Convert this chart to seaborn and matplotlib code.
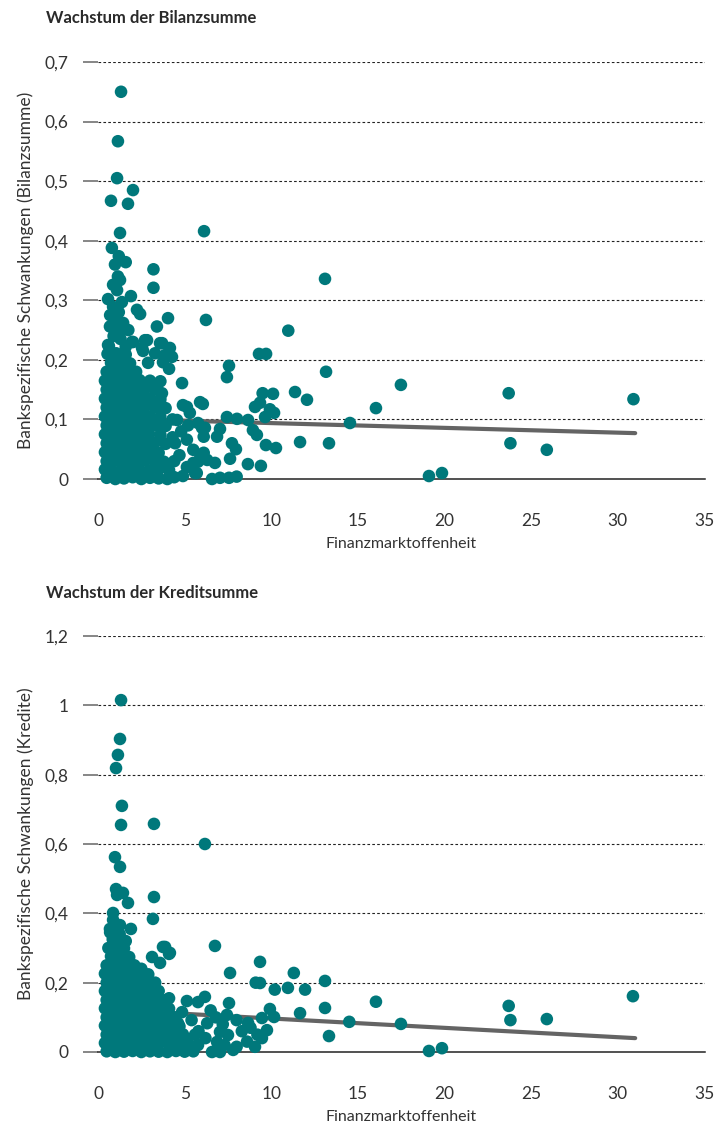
import matplotlib
matplotlib.use("Agg")
import matplotlib.pyplot as plt
import seaborn as sns
import pandas as pd

# ---------------- data: Wachstum der Bilanzsumme ----------------
bil_outlier_x = [1.33, 1.15, 1.10, 2.02, 0.75, 1.73, 1.27, 6.12, 0.80, 1.20, 1.60, 0.98, 3.20, 1.15, 1.27,
                 0.87, 1.10, 3.20, 1.90, 0.58, 1.38, 0.87, 2.25, 2.43, 4.04, 3.40, 0.69, 1.38, 0.63, 1.96,
                 2.83, 3.70, 4.15, 2.54, 3.29, 3.87, 6.23, 10.98, 13.10, 9.29, 9.70, 7.56, 7.44, 4.85, 13.16,
                 5.89, 6.05, 5.13, 5.30, 9.50, 10.10, 11.37, 12.06, 9.06, 9.35, 9.92, 10.16, 9.64, 7.44, 8.02,
                 8.66, 8.94, 9.17, 9.69, 10.27, 11.66, 7.73, 7.96, 7.62, 8.65, 9.40, 6.58, 7.04, 7.56, 8.00,
                 6.00, 6.10, 5.50, 5.90, 6.75, 7.04, 6.87, 5.70, 5.13, 17.48, 16.04, 14.54, 13.33, 19.10, 19.85,
                 23.70, 30.90, 23.80, 25.90, 2.71, 3.58, 4.27, 3.75, 4.10, 2.89, 2.02, 0.58, 3.40, 3.69, 3.58,
                 4.56, 5.77, 6.17, 4.90, 4.30, 4.30, 4.45, 5.13, 5.77, 5.60, 6.10, 6.30, 5.50, 4.80, 5.20,
                 4.70, 4.90, 0.90, 1.30, 1.60, 1.00, 1.20, 0.80, 1.75, 2.60, 0.70, 1.05, 1.45]
bil_outlier_y = [0.650, 0.567, 0.505, 0.485, 0.467, 0.462, 0.413, 0.416, 0.388, 0.374, 0.364, 0.360, 0.352, 0.340, 0.334,
                 0.326, 0.317, 0.321, 0.307, 0.302, 0.297, 0.289, 0.284, 0.277, 0.270, 0.256, 0.256, 0.250, 0.223, 0.230,
                 0.233, 0.228, 0.220, 0.220, 0.211, 0.208, 0.267, 0.249, 0.336, 0.210, 0.210, 0.190, 0.171, 0.161, 0.180,
                 0.129, 0.126, 0.121, 0.111, 0.144, 0.143, 0.146, 0.133, 0.121, 0.128, 0.117, 0.111, 0.104, 0.104, 0.101,
                 0.099, 0.082, 0.074, 0.057, 0.052, 0.062, 0.060, 0.050, 0.034, 0.025, 0.022, 0.000, 0.002, 0.002, 0.004,
                 0.086, 0.071, 0.049, 0.035, 0.027, 0.084, 0.071, 0.010, 0.020, 0.158, 0.119, 0.094, 0.060, 0.005, 0.010,
                 0.144, 0.134, 0.060, 0.049, 0.233, 0.228, 0.205, 0.196, 0.185, 0.195, 0.230, 0.225, 0.158, 0.144, 0.128,
                 0.099, 0.094, 0.086, 0.124, 0.100, 0.070, 0.060, 0.066, 0.029, 0.010, 0.044, 0.032, 0.027, 0.080, 0.090,
                 0.040, 0.005, 0.240, 0.235, 0.222, 0.270, 0.280, 0.205, 0.250, 0.215, 0.275, 0.255, 0.262]

bil_dense_x = [0.50, 1.00, 1.50, 2.00, 2.50, 3.00, 3.50, 4.00, 4.40,
               0.40, 0.75, 1.30, 1.85, 2.40, 2.95, 3.50, 4.10,
               0.50, 1.05, 1.60, 2.15, 2.70, 3.25, 3.80, 4.40,
               0.40, 0.75, 1.30, 1.85, 2.40, 2.95, 3.50,
               0.50, 1.05, 1.60, 2.15, 2.70, 3.25, 3.90,
               0.40, 0.75, 1.30, 1.85, 2.40, 2.95, 3.60,
               0.50, 1.05, 1.60, 2.15, 2.70, 3.30, 3.90,
               0.40, 0.75, 1.30, 1.85, 2.40, 3.00, 3.60,
               0.50, 1.05, 1.60, 2.15, 2.70, 3.30, 3.90,
               0.40, 0.75, 1.30, 1.85, 2.40, 3.00, 3.60,
               0.50, 1.05, 1.60, 2.15, 2.70, 3.30,
               0.40, 0.75, 1.30, 1.85, 2.40, 3.00, 3.60,
               0.50, 1.05, 1.60, 2.20,
               0.75, 1.30, 1.85,
               0.55, 1.05, 1.60]
bil_dense_y = [0.002, 0.000, 0.001, 0.003, 0.000, 0.002, 0.001, 0.000, 0.003,
               0.016, 0.015, 0.014, 0.016, 0.015, 0.014, 0.016, 0.015,
               0.030, 0.031, 0.029, 0.030, 0.031, 0.030, 0.029, 0.030,
               0.045, 0.046, 0.044, 0.045, 0.046, 0.045, 0.044,
               0.060, 0.061, 0.059, 0.060, 0.061, 0.060, 0.059,
               0.075, 0.076, 0.074, 0.075, 0.076, 0.075, 0.074,
               0.090, 0.091, 0.089, 0.090, 0.091, 0.090, 0.089,
               0.105, 0.106, 0.104, 0.105, 0.106, 0.105, 0.104,
               0.120, 0.121, 0.119, 0.120, 0.121, 0.120, 0.119,
               0.135, 0.136, 0.134, 0.135, 0.136, 0.135, 0.134,
               0.150, 0.151, 0.149, 0.150, 0.151, 0.150,
               0.165, 0.166, 0.164, 0.165, 0.166, 0.165, 0.164,
               0.180, 0.181, 0.179, 0.180,
               0.195, 0.196, 0.194,
               0.210, 0.211, 0.209]

bil_fit_x = [3.6, 31.0]
bil_fit_y = [0.099, 0.077]

# ---------------- data: Wachstum der Kreditsumme ----------------
kre_outlier_x = [1.33, 1.27, 1.15, 1.04, 1.38, 1.33, 3.23, 6.17, 0.98, 1.27, 1.04, 1.10, 1.44, 1.73, 3.23,
                 3.17, 0.87, 0.87, 1.27, 1.90, 0.69, 3.75, 4.10, 3.12, 3.58, 6.75, 7.62, 9.35, 9.10, 9.35,
                 10.20, 7.56, 6.17, 5.77, 5.13, 4.10, 7.44, 8.00, 8.66, 9.46, 9.75, 9.92, 10.16, 6.87, 6.58,
                 7.04, 7.80, 8.00, 9.06, 9.46, 6.30, 7.04, 7.50, 5.77, 5.40, 4.85, 4.62, 5.13, 11.30, 10.96,
                 11.95, 11.66, 13.10, 13.10, 13.33, 14.50, 16.04, 17.48, 19.10, 19.85, 23.70, 23.80, 25.90, 30.87, 3.87,
                 4.15, 8.30, 8.80, 9.20, 6.80, 6.50, 7.20, 5.80, 6.20, 8.60, 7.30, 0.70, 1.25, 1.60, 2.50]
kre_outlier_y = [1.015, 0.903, 0.857, 0.819, 0.710, 0.655, 0.658, 0.600, 0.562, 0.534, 0.470, 0.453, 0.459, 0.430, 0.447,
                 0.384, 0.401, 0.381, 0.366, 0.355, 0.355, 0.303, 0.283, 0.274, 0.257, 0.306, 0.228, 0.260, 0.200, 0.199,
                 0.180, 0.141, 0.159, 0.144, 0.147, 0.155, 0.107, 0.092, 0.084, 0.098, 0.063, 0.124, 0.101, 0.029, 0.000,
                 0.000, 0.006, 0.015, 0.015, 0.040, 0.083, 0.058, 0.049, 0.020, 0.092, 0.115, 0.083, 0.035, 0.228, 0.185,
                 0.180, 0.112, 0.205, 0.127, 0.046, 0.087, 0.145, 0.081, 0.003, 0.011, 0.133, 0.092, 0.095, 0.161, 0.303,
                 0.286, 0.060, 0.070, 0.050, 0.100, 0.120, 0.080, 0.060, 0.040, 0.030, 0.020, 0.345, 0.340, 0.320, 0.240]

kre_dense_x = [0.50, 1.00, 1.50, 2.00, 2.50, 3.00, 3.50, 4.00, 4.50, 5.00, 5.50,
               0.40, 0.75, 1.30, 1.85, 2.40, 2.95, 3.50, 4.05, 4.60, 5.20,
               0.50, 1.05, 1.60, 2.15, 2.70, 3.25, 3.80, 4.35, 4.90, 5.60,
               0.40, 0.75, 1.30, 1.85, 2.40, 2.95, 3.50, 4.10, 4.70,
               0.50, 1.05, 1.60, 2.15, 2.70, 3.25, 3.80, 4.40,
               0.40, 0.75, 1.30, 1.85, 2.40, 2.95, 3.50, 4.10,
               0.50, 1.05, 1.60, 2.15, 2.70, 3.25, 3.80,
               0.40, 0.75, 1.30, 1.85, 2.40, 2.95, 3.50,
               0.50, 1.05, 1.60, 2.15, 2.70, 3.30,
               0.40, 0.75, 1.30, 1.85, 2.40, 2.90,
               0.50, 1.05, 1.60, 2.10,
               0.75, 1.30, 1.80,
               0.60, 1.10, 1.50,
               0.85, 1.30]
kre_dense_y = [0.002, 0.000, 0.001, 0.003, 0.000, 0.002, 0.001, 0.000, 0.003, 0.001, 0.002,
               0.026, 0.025, 0.024, 0.026, 0.025, 0.024, 0.026, 0.025, 0.024, 0.026,
               0.050, 0.051, 0.049, 0.050, 0.051, 0.050, 0.049, 0.050, 0.051, 0.050,
               0.076, 0.075, 0.074, 0.076, 0.075, 0.074, 0.076, 0.075, 0.074,
               0.100, 0.101, 0.099, 0.100, 0.101, 0.100, 0.099, 0.100,
               0.126, 0.125, 0.124, 0.126, 0.125, 0.124, 0.126, 0.125,
               0.150, 0.151, 0.149, 0.150, 0.151, 0.150, 0.149,
               0.176, 0.175, 0.174, 0.176, 0.175, 0.174, 0.176,
               0.200, 0.201, 0.199, 0.200, 0.201, 0.200,
               0.226, 0.225, 0.224, 0.226, 0.225, 0.224,
               0.250, 0.251, 0.249, 0.250,
               0.276, 0.275, 0.274,
               0.300, 0.301, 0.299,
               0.325, 0.326]

kre_fit_x = [4.3, 31.0]
kre_fit_y = [0.112, 0.040]

x_ticks = [0, 5, 10, 15, 20, 25, 30, 35]
x_ticklabels = ["0", "5", "10", "15", "20", "25", "30", "35"]
bil_yticks = [0, 0.1, 0.2, 0.3, 0.4, 0.5, 0.6, 0.7]
bil_yticklabels = ["0", "0,1", "0,2", "0,3", "0,4", "0,5", "0,6", "0,7"]
kre_yticks = [0, 0.2, 0.4, 0.6, 0.8, 1.0, 1.2]
kre_yticklabels = ["0", "0,2", "0,4", "0,6", "0,8", "1", "1,2"]

titles = ["Wachstum der Bilanzsumme", "Wachstum der Kreditsumme"]
ylabels = ["Bankspezifische Schwankungen (Bilanzsumme)", "Bankspezifische Schwankungen (Kredite)"]
xlabel = "Finanzmarktoffenheit"

# ---------------- styling ----------------
sns.set_style("white")
plt.rcParams["font.family"] = ["Lato", "DejaVu Sans"]
TEAL = "#00787B"
TXT = "#333333"

W, H = 718, 1128
fig = plt.figure(figsize=(W / 100, H / 100), dpi=100)

def px_box(left, top, right, bottom):
    return [left / W, 1 - bottom / H, (right - left) / W, (bottom - top) / H]

ax1 = fig.add_axes(px_box(98, 62, 704.5, 479))
ax2 = fig.add_axes(px_box(98, 636, 704.5, 1052))

panels = [
    (ax1, bil_outlier_x + bil_dense_x, bil_outlier_y + bil_dense_y, bil_fit_x, bil_fit_y,
     bil_yticks, bil_yticklabels, (0, 0.7)),
    (ax2, kre_outlier_x + kre_dense_x, kre_outlier_y + kre_dense_y, kre_fit_x, kre_fit_y,
     kre_yticks, kre_yticklabels, (0, 1.2)),
]

for i, (ax, xs, ys, fx, fy, yt, ytl, ylim) in enumerate(panels):
    df = pd.DataFrame({"x": xs, "y": ys})
    fit = pd.DataFrame({"x": fx, "y": fy})
    sns.lineplot(data=fit, x="x", y="y", ax=ax, color="#646464", linewidth=3.0,
                 zorder=3, solid_capstyle="round")
    sns.scatterplot(data=df, x="x", y="y", ax=ax, color=TEAL, s=82, linewidth=0,
                    edgecolor="none", zorder=4, clip_on=False, legend=False)
    ax.set_xlim(0, 35)
    ax.set_ylim(*ylim)
    ax.set_xticks(x_ticks)
    ax.set_xticklabels(x_ticklabels)
    ax.set_yticks(yt)
    ax.set_yticklabels(ytl)
    for y in yt[1:]:
        ax.axhline(y, color="#222222", linewidth=0.8, linestyle=(0, (2.4, 2.0)), zorder=1)
    for s in ["top", "right", "left"]:
        ax.spines[s].set_visible(False)
    ax.spines["bottom"].set_color("#222222")
    ax.spines["bottom"].set_linewidth(1.1)
    ax.spines["bottom"].set_zorder(2)
    ax.tick_params(axis="x", direction="out", length=11, width=1.1, color="#555555",
                   pad=13.5, labelsize=12.5, labelcolor=TXT)
    ax.tick_params(axis="y", direction="out", length=11, width=1.1, color="#666666",
                   pad=10, labelsize=12.5, labelcolor=TXT, left=True)
    ax.set_xlabel(xlabel, fontsize=11.5, color=TXT, labelpad=6)
    ax.set_ylabel(ylabels[i], fontsize=12.5, color=TXT, labelpad=8)
    ax.grid(False)

fig.text(46 / W, 1 - 18 / H, titles[0], fontsize=12, fontweight="bold", color="#2a2a2a",
         ha="left", va="center")
fig.text(46 / W, 1 - 593 / H, titles[1], fontsize=12, fontweight="bold", color="#2a2a2a",
         ha="left", va="center")

fig.savefig("out.png", dpi=100)
